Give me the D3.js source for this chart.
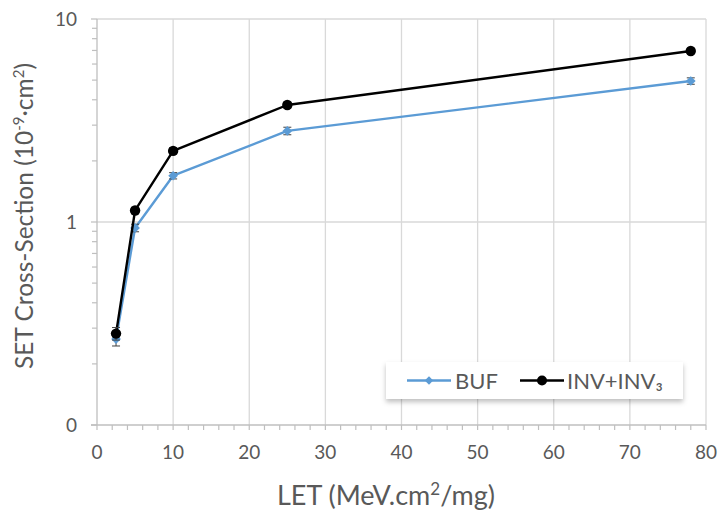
<!DOCTYPE html>
<html><head><meta charset="utf-8">
<script src="https://cdn.jsdelivr.net/npm/d3@7"></script>
<style>body{margin:0;background:#fff;}svg{display:block;font-family:Lato,"Open Sans",sans-serif;}</style>
</head><body>
<svg id="chart" width="718" height="514"></svg>
<script>
const letValues = [2.5, 5, 10, 25, 78];
const bufValues = [0.265, 0.935, 1.69, 2.81, 4.95];
const bufErrors = [0.02, 0.04, 0.06, 0.12, 0.18];
const invValues = [0.282, 1.14, 2.24, 3.77, 6.96];
const invErrors = [0.02, 0.04, 0.08, 0.12, 0.2];
const seriesNames = ["BUF", "INV+INV₃"];
const xTicks = [0, 10, 20, 30, 40, 50, 60, 70, 80];
const yTicks = [0.1, 1, 10];
const yTickLabels = ["0", "1", "10"];

const svg = d3.select("#chart");
const x = d3.scaleLinear().domain([0, 80]).range([97, 706]);
const y = d3.scaleLog().domain([0.1, 10]).range([425, 19]);
const grid = "#d9d9d9", axisC = "#bfbfbf", txt = "#595959";

// vertical gridlines
svg.append("g").selectAll("line").data(xTicks.slice(1)).join("line")
  .attr("x1", d => x(d)).attr("x2", d => x(d)).attr("y1", y(10)).attr("y2", y(0.1))
  .attr("stroke", grid).attr("stroke-width", 1.3);
// horizontal gridlines
svg.append("g").selectAll("line").data(yTicks.slice(1)).join("line")
  .attr("x1", x(0)).attr("x2", x(80)).attr("y1", d => y(d)).attr("y2", d => y(d))
  .attr("stroke", grid).attr("stroke-width", 1.3);

// minor ticks y
const yMinor = [];
[0.1, 1].forEach(b => { for (let k = 2; k <= 9; k++) yMinor.push(b * k); });
const gy = svg.append("g");
gy.selectAll("line.mn").data(yMinor).join("line").attr("class","mn")
  .attr("x1", x(0) - 5).attr("x2", x(0)).attr("y1", d => y(d)).attr("y2", d => y(d))
  .attr("stroke", axisC).attr("stroke-width", 1.2);
gy.selectAll("line.mj").data(yTicks).join("line").attr("class","mj")
  .attr("x1", x(0) - 6).attr("x2", x(0)).attr("y1", d => y(d)).attr("y2", d => y(d))
  .attr("stroke", axisC).attr("stroke-width", 1.2);
gy.append("line").attr("x1", x(0)).attr("x2", x(0)).attr("y1", y(10)).attr("y2", y(0.1))
  .attr("stroke", axisC).attr("stroke-width", 1.3);
gy.selectAll("text").data(yTicks).join("text")
  .attr("x", 77).attr("y", d => y(d)).attr("dy", "0.35em").attr("text-anchor", "end")
  .attr("fill", txt).attr("font-size", 19).text((d, i) => yTickLabels[i]);

// x axis
const xMinor = d3.range(0, 81, 2);
const gx = svg.append("g");
gx.selectAll("line").data(xMinor).join("line")
  .attr("x1", d => x(d)).attr("x2", d => x(d)).attr("y1", y(0.1)).attr("y2", y(0.1) + 5)
  .attr("stroke", axisC).attr("stroke-width", 1.2);
gx.append("line").attr("x1", x(0) - 6).attr("x2", x(80)).attr("y1", y(0.1)).attr("y2", y(0.1))
  .attr("stroke", axisC).attr("stroke-width", 1.3);
gx.selectAll("text").data(xTicks).join("text")
  .attr("x", d => x(d)).attr("y", 452).attr("dy", "0.35em").attr("text-anchor", "middle")
  .attr("fill", txt).attr("font-size", 19).text(d => d);

// axis titles
const xt = svg.append("text").attr("x", 386).attr("y", 505).attr("text-anchor", "middle")
  .attr("fill", txt).attr("font-size", 27);
xt.append("tspan").text("LET (MeV.cm");
xt.append("tspan").attr("dy", -10).attr("font-size", 17).text("2");
xt.append("tspan").attr("dy", 10).text("/mg)");

const yt = svg.append("text").attr("transform", "translate(33,216) rotate(-90)")
  .attr("text-anchor", "middle").attr("fill", txt).attr("font-size", 24.5);
yt.append("tspan").text("SET Cross-Section (10");
yt.append("tspan").attr("dy", -9).attr("font-size", 15).text("-9");
yt.append("tspan").attr("dy", 9).text("·cm");
yt.append("tspan").attr("dy", -9).attr("font-size", 15).text("2");
yt.append("tspan").attr("dy", 9).text(")");

// series
const series = [
  {name: seriesNames[0], vals: bufValues, errs: bufErrors, color: "#5b9bd5", marker: "diamond"},
  {name: seriesNames[1], vals: invValues, errs: invErrors, color: "#000000", marker: "circle"}
];
const line = d3.line().x(d => x(d[0])).y(d => y(d[1]));
series.forEach(s => {
  const pts = letValues.map((v, i) => [v, s.vals[i], s.errs[i]]);
  const g = svg.append("g");
  g.append("path").datum(pts).attr("d", line).attr("fill", "none")
    .attr("stroke", s.color).attr("stroke-width", 2.4).attr("stroke-linejoin", "round");
  const eb = g.selectAll("g.eb").data(pts).join("g");
  eb.append("line").attr("x1", d => x(d[0])).attr("x2", d => x(d[0]))
    .attr("y1", d => y(d[1] - d[2])).attr("y2", d => y(d[1] + d[2]))
    .attr("stroke", "#404040").attr("stroke-width", 1);
  [-1, 1].forEach(sg => eb.append("line")
    .attr("x1", d => x(d[0]) - 4).attr("x2", d => x(d[0]) + 4)
    .attr("y1", d => y(d[1] + sg * d[2])).attr("y2", d => y(d[1] + sg * d[2]))
    .attr("stroke", "#404040").attr("stroke-width", 1));
  if (s.marker === "circle") {
    g.selectAll("circle").data(pts).join("circle")
      .attr("cx", d => x(d[0])).attr("cy", d => y(d[1])).attr("r", 5.2).attr("fill", s.color);
  } else {
    g.selectAll("path.m").data(pts).join("path").attr("class", "m")
      .attr("d", d3.symbol(d3.symbolDiamond2, 60))
      .attr("transform", d => `translate(${x(d[0])},${y(d[1])})`).attr("fill", s.color);
  }
});

// legend
const defs = svg.append("defs");
const f = defs.append("filter").attr("id", "sh").attr("x", "-10%").attr("y", "-30%").attr("width", "120%").attr("height", "170%");
f.append("feDropShadow").attr("dx", 0).attr("dy", 3).attr("stdDeviation", 2.5).attr("flood-color", "#000").attr("flood-opacity", 0.25);
const lg = svg.append("g");
lg.append("rect").attr("x", 386).attr("y", 362).attr("width", 297).attr("height", 37)
  .attr("fill", "#fff").attr("filter", "url(#sh)");
const litems = [
  {x0: 407, tx: 455, s: series[0]},
  {x0: 520, tx: 567, s: series[1]}
];
litems.forEach(it => {
  lg.append("line").attr("x1", it.x0).attr("x2", it.x0 + 44).attr("y1", 380.5).attr("y2", 380.5)
    .attr("stroke", it.s.color).attr("stroke-width", 2.4);
  if (it.s.marker === "circle") {
    lg.append("circle").attr("cx", it.x0 + 22).attr("cy", 380.5).attr("r", 5).attr("fill", it.s.color);
  } else {
    lg.append("path").attr("d", d3.symbol(d3.symbolDiamond2, 45))
      .attr("transform", `translate(${it.x0 + 22},380.5)`).attr("fill", it.s.color);
  }
  lg.append("text").attr("x", it.tx).attr("y", 381).attr("dy", "0.35em")
    .attr("fill", txt).attr("font-size", 22).text(it.s.name);
});
</script>
</body></html>
